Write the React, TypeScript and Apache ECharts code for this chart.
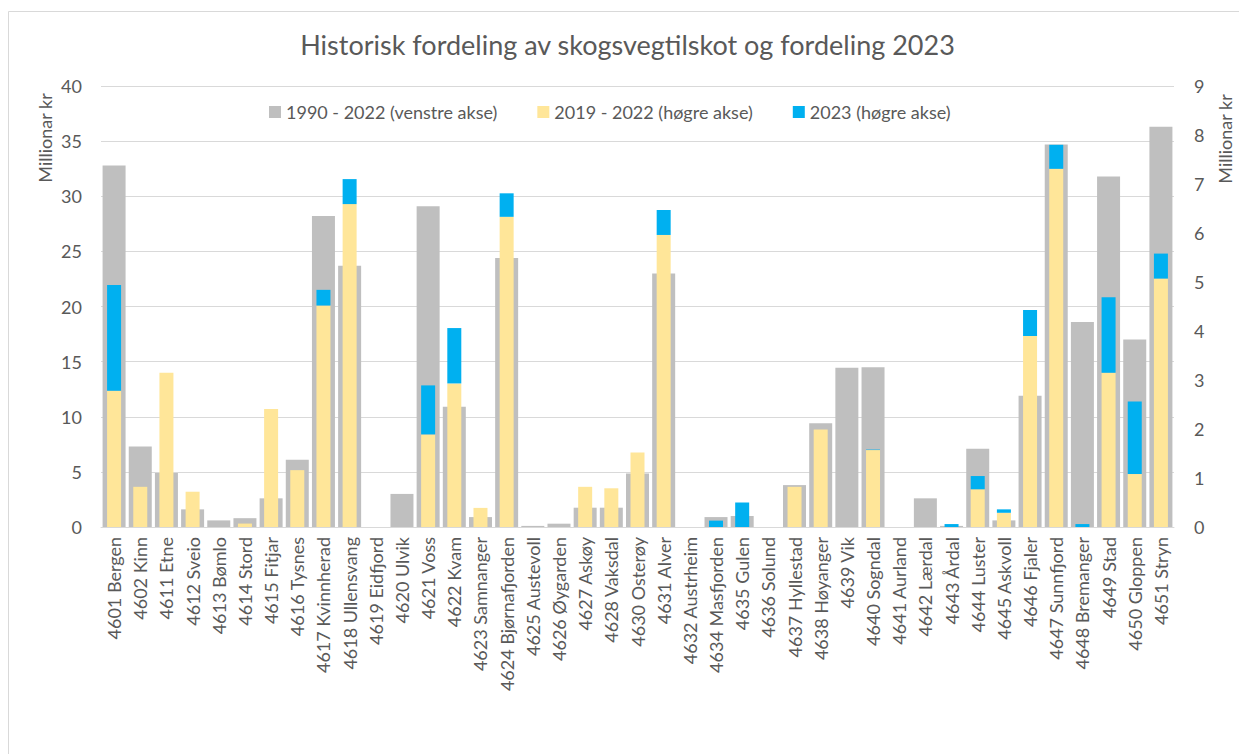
import React, { useEffect, useRef } from "react";
import * as echarts from "echarts";

const categories = [
  "4601 Bergen", "4602 Kinn", "4611 Etne", "4612 Sveio", "4613 Bømlo", "4614 Stord",
  "4615 Fitjar", "4616 Tysnes", "4617 Kvinnherad", "4618 Ullensvang", "4619 Eidfjord",
  "4620 Ulvik", "4621 Voss", "4622 Kvam", "4623 Samnanger", "4624 Bjørnafjorden",
  "4625 Austevoll", "4626 Øygarden", "4627 Askøy", "4628 Vaksdal", "4630 Osterøy",
  "4631 Alver", "4632 Austrheim", "4634 Masfjorden", "4635 Gulen", "4636 Solund",
  "4637 Hyllestad", "4638 Høyanger", "4639 Vik", "4640 Sogndal", "4641 Aurland",
  "4642 Lærdal", "4643 Årdal", "4644 Luster", "4645 Askvoll", "4646 Fjaler",
  "4647 Sunnfjord", "4648 Bremanger", "4649 Stad", "4650 Gloppen", "4651 Stryn",
];

// 1990 - 2022, left axis (mill. kr)
const hist1990_2022 = [
  32.8, 7.3, 4.9, 1.6, 0.6, 0.8, 2.6, 6.1, 28.2, 23.7, 0,
  3.0, 29.1, 10.9, 0.9, 24.4, 0.1, 0.3, 1.75, 1.75, 4.85,
  23.0, 0, 0.9, 1.0, 0, 3.8, 9.4, 14.45, 14.5, 0,
  2.6, 0.1, 7.1, 0.6, 11.9, 34.7, 18.6, 31.8, 17.0, 36.3,
];

// 2019 - 2022, right axis (mill. kr)
const recent2019_2022 = [
  2.78, 0.82, 3.15, 0.72, 0, 0.07, 2.41, 1.16, 4.52, 6.59, 0,
  0, 1.89, 2.93, 0.39, 6.33, 0, 0, 0.82, 0.79, 1.52,
  5.96, 0, 0, 0, 0, 0.82, 1.99, 0, 1.57, 0,
  0, 0, 0.77, 0.29, 3.9, 7.31, 0, 3.15, 1.08, 5.07,
];

// 2023, right axis (mill. kr)
const year2023 = [
  2.16, 0, 0, 0, 0, 0, 0, 0, 0.32, 0.51, 0,
  0, 1.0, 1.13, 0, 0.48, 0, 0, 0, 0, 0,
  0.51, 0, 0.13, 0.5, 0, 0, 0, 0, 0.01, 0,
  0, 0.06, 0.27, 0.07, 0.53, 0.49, 0.06, 1.54, 1.48, 0.51,
];

const leftTicks = { min: 0, max: 40, interval: 5 };
const rightTicks = { min: 0, max: 9, interval: 1 };

const FONT = "Lato";
const TXT = "#595959";
const GRID = "#d9d9d9";

export default function App() {
  const ref = useRef<HTMLDivElement>(null);
  useEffect(() => {
    if (!ref.current) return;
    const chart = echarts.init(ref.current, undefined, { renderer: "svg" });
    const labelStyle = { color: TXT, fontSize: 18, fontFamily: FONT };
    chart.setOption({
      animation: false,
      backgroundColor: "#ffffff",
      textStyle: { fontFamily: FONT },
      title: {
        text: "Historisk fordeling av skogsvegtilskot og fordeling 2023",
        left: "center",
        top: 18,
        textStyle: { color: TXT, fontSize: 27, fontWeight: "normal", fontFamily: FONT },
      },
      legend: {
        left: 256,
        top: 90,
        itemWidth: 12,
        itemHeight: 12,
        itemGap: 40,
        icon: "rect",
        textStyle: { color: TXT, fontSize: 18, fontFamily: FONT },
        data: [
          "1990 - 2022 (venstre akse)",
          "2019 - 2022 (høgre akse)",
          "2023 (høgre akse)",
        ],
      },
      grid: { left: 93, right: 73, top: 78, bottom: 227 },
      xAxis: [
        {
          type: "category",
          data: categories,
          axisTick: { show: false },
          axisLine: { lineStyle: { color: GRID, width: 1 } },
          axisLabel: { ...labelStyle, rotate: 90, interval: 0, margin: 10 },
        },
        {
          type: "category",
          data: categories,
          show: false,
        },
      ],
      yAxis: [
        {
          type: "value",
          ...leftTicks,
          axisLabel: { ...labelStyle, margin: 19 },
          axisLine: { show: false },
          axisTick: { show: false },
          splitLine: { lineStyle: { color: GRID, width: 1 } },
        },
        {
          type: "value",
          ...rightTicks,
          axisLabel: { ...labelStyle, margin: 20 },
          axisLine: { show: false },
          axisTick: { show: false },
          splitLine: { show: false },
        },
      ],
      series: [
        {
          name: "1990 - 2022 (venstre akse)",
          type: "bar",
          xAxisIndex: 0,
          yAxisIndex: 0,
          barWidth: 23,
          itemStyle: { color: "#bfbfbf" },
          data: hist1990_2022,
        },
        {
          name: "2019 - 2022 (høgre akse)",
          type: "bar",
          xAxisIndex: 1,
          yAxisIndex: 1,
          stack: "right",
          barWidth: 14,
          itemStyle: { color: "#ffe699" },
          data: recent2019_2022,
        },
        {
          name: "2023 (høgre akse)",
          type: "bar",
          xAxisIndex: 1,
          yAxisIndex: 1,
          stack: "right",
          barWidth: 14,
          itemStyle: { color: "#00b0f0" },
          data: year2023,
        },
      ],
      graphic: [
        {
          type: "rect",
          silent: true,
          shape: { x: 0.5, y: 3.5, width: 1300, height: 800 },
          style: { fill: "none", stroke: GRID, lineWidth: 1 },
        },
        {
          type: "text",
          x: 36.5,
          y: 130,
          rotation: Math.PI / 2,
          style: {
            text: "Millionar kr",
            fill: TXT,
            fontSize: 18,
            fontFamily: FONT,
            align: "center",
            verticalAlign: "middle",
          },
        },
        {
          type: "text",
          x: 1217,
          y: 131,
          rotation: Math.PI / 2,
          style: {
            text: "Millionar kr",
            fill: TXT,
            fontSize: 18,
            fontFamily: FONT,
            align: "center",
            verticalAlign: "middle",
          },
        },
      ],
    });
    return () => chart.dispose();
  }, []);
  return <div ref={ref} style={{ width: 1239, height: 746 }} />;
}
